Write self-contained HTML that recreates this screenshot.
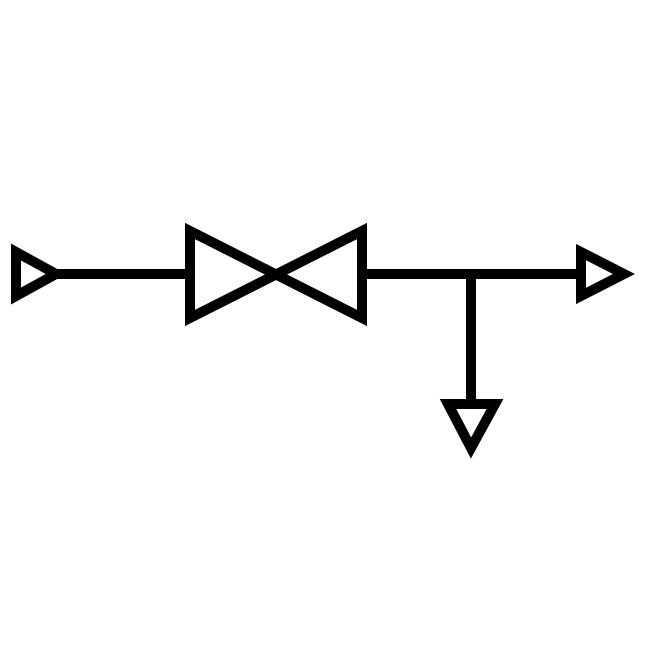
<!DOCTYPE html>
<html><head><style>html,body{margin:0;padding:0;background:#fff}</style></head>
<body>
<svg width="650" height="650" viewBox="0 0 650 650" xmlns="http://www.w3.org/2000/svg">
<g fill="none" stroke="#000" stroke-width="10" stroke-linejoin="miter" stroke-miterlimit="10">
<polygon points="16,252 16,296 56,274"/>
<line x1="56" y1="274" x2="190" y2="274"/>
<path d="M190,231 L362,318 L362,231 L190,318 Z"/>
<line x1="362" y1="274" x2="581" y2="274"/>
<polygon points="581,252 581,296 624,274"/>
<line x1="471" y1="274" x2="471" y2="404"/>
<polygon points="448,404 495,404 471,448"/>
</g>
</svg>
</body></html>
